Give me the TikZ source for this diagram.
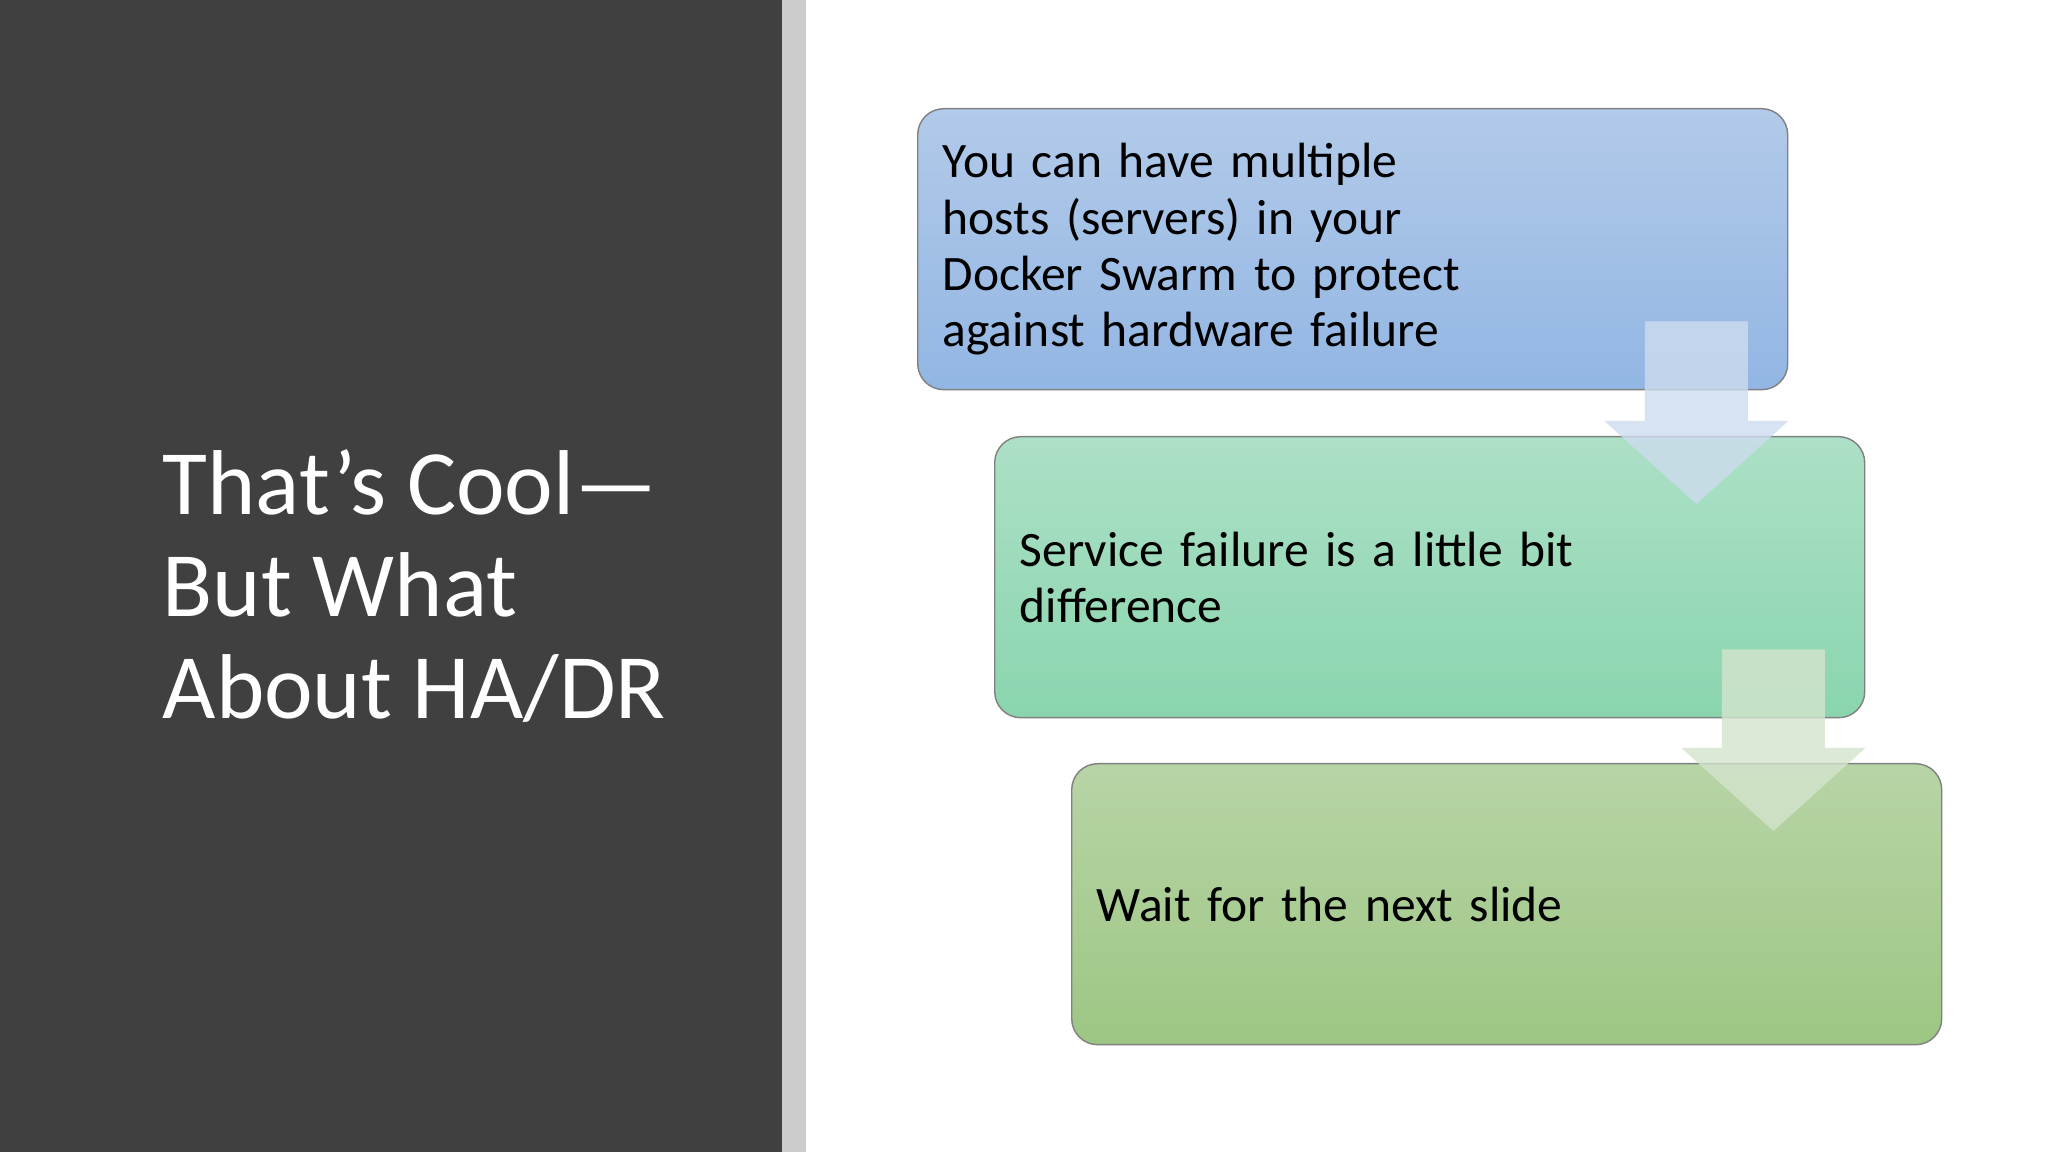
\documentclass[tikz,border=0pt]{standalone}
\usepackage{fontspec}
\setmainfont{Carlito}
\usetikzlibrary{calc}

\definecolor{panel}{RGB}{64,64,64}
\definecolor{strip}{RGB}{204,204,204}
\definecolor{blueTop}{RGB}{178,202,233}
\definecolor{blueBot}{RGB}{146,182,227}
\definecolor{greenTop}{RGB}{172,224,198}
\definecolor{greenBot}{RGB}{138,213,174}
\definecolor{oliveTop}{RGB}{183,212,166}
\definecolor{oliveBot}{RGB}{157,198,131}
\definecolor{arrowBlue}{RGB}{205,220,238}
\definecolor{arrowGreen}{RGB}{212,228,205}

\tikzset{
  procbox/.style={rounded corners=2.6mm, draw=black!50, line width=0.4pt,
    text width=82mm, inner xsep=2.5mm, minimum height=28.1mm,
    align=left, anchor=north west, font=\fontsize{14.1}{16}\selectfont},
  headline/.style={anchor=north west, align=left, text=white, inner sep=0pt,
    font=\fontsize{26.2}{29}\selectfont}
}

% block arrow from one box down into the next
\newcommand\flowarrow[3]{%
  \fill[#3, opacity=.8] let \p1=(#1.south east), \p2=(#2.north) in
    (\x1-14.35mm,\y1+6.9mm) -- (\x1-4.05mm,\y1+6.9mm) -- (\x1-4.05mm,\y2+1.5mm)
    -- (\x1,\y2+1.5mm) -- (\x1-9.2mm,\y2-6.8mm) -- (\x1-18.4mm,\y2+1.5mm)
    -- (\x1-14.35mm,\y2+1.5mm) -- cycle;}

\begin{document}
\begin{tikzpicture}[x=0.1mm, y=-0.1mm]
\fill[white] (0,0) rectangle (2048,1152);
\fill[panel] (0,0) rectangle (782,1152);
\fill[strip] (782,0) rectangle (806,1152);

\node[headline] (title) at (162,449) {That’s Cool—\\But What\\About HA/DR};

\node[procbox, top color=blueTop, bottom color=blueBot] (hosts) at (917,108)
  {You can have multiple\\hosts (servers) in your\\Docker Swarm to protect\\against hardware failure};
\node[procbox, top color=greenTop, bottom color=greenBot] (service) at (994,436)
  {Service failure is a little bit\\difference};
\node[procbox, top color=oliveTop, bottom color=oliveBot] (wait) at (1071,763)
  {Wait for the next slide};

\flowarrow{hosts}{service}{arrowBlue}
\flowarrow{service}{wait}{arrowGreen}
\end{tikzpicture}
\end{document}
